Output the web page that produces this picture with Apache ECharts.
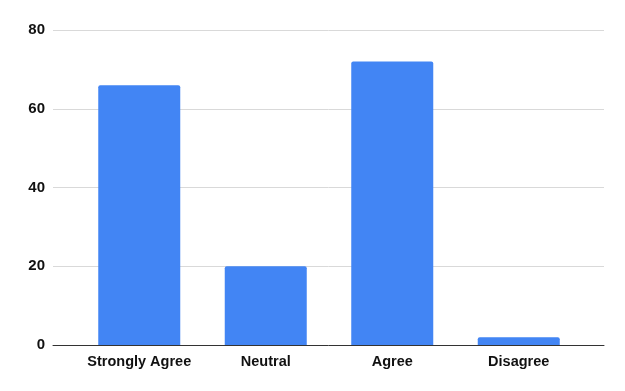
<!DOCTYPE html>
<html><head><meta charset="utf-8">
<script src="https://cdn.jsdelivr.net/npm/echarts@6/dist/echarts.min.js"></script>
<style>html,body{margin:0;padding:0;background:#fff}#c{width:625px;height:391px}</style>
</head><body><div id="c"></div>
<script>
const categories = ["Strongly Agree", "Neutral", "Agree", "Disagree"];
const values = [66, 20, 72, 2];
const yTicks = [0, 20, 40, 60, 80];

const chart = echarts.init(document.getElementById('c'), null, {renderer: 'canvas'});
const yMin = yTicks[0], yMax = yTicks[yTicks.length - 1];
chart.setOption({
  animation: false,
  backgroundColor: '#ffffff',
  grid: [
    {left: 53, right: 21, top: 30, bottom: 46},
    {left: 76, right: 43, top: 30, bottom: 46}
  ],
  xAxis: [
    {gridIndex: 0, type: 'value', min: 0, max: 1, show: true,
     axisLine: {show: true, onZero: false, lineStyle: {color: '#333333', width: 1}},
     axisTick: {show: false}, axisLabel: {show: false}, splitLine: {show: false}},
    {gridIndex: 1, type: 'category', data: categories,
     axisLine: {show: false}, axisTick: {show: false},
     axisLabel: {interval: 0, color: '#111', fontWeight: 'bold', fontSize: 14.5, fontFamily: 'Liberation Sans, Arial, sans-serif', margin: 9}}
  ],
  yAxis: [
    {gridIndex: 0, type: 'value', min: yMin, max: yMax, interval: 20,
     axisLine: {show: false}, axisTick: {show: false},
     axisLabel: {color: '#111', fontWeight: 'bold', fontSize: 15, fontFamily: 'Liberation Sans, Arial, sans-serif', margin: 8},
     splitLine: {lineStyle: {color: '#d9d9d9', width: 1}}},
    {gridIndex: 1, type: 'value', min: yMin, max: yMax, interval: 20, show: false,
     splitLine: {show: false}}
  ],
  series: [{
    type: 'bar', xAxisIndex: 1, yAxisIndex: 1, data: values,
    barWidth: 82,
    itemStyle: {color: '#4285F4', borderRadius: [2, 2, 0, 0]}
  }]
});
</script></body></html>
